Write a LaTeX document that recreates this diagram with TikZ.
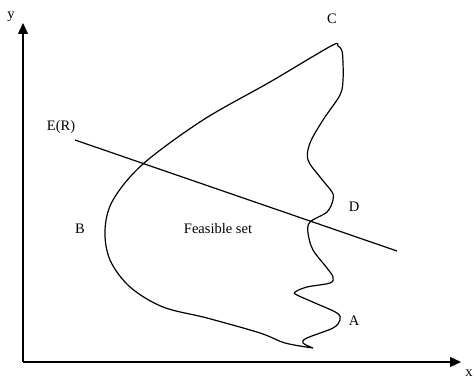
\documentclass[tikz,border=0pt]{standalone}
\usepackage{fontspec}
\setmainfont{Liberation Serif}
\usetikzlibrary{arrows.meta}
\begin{document}
\begin{tikzpicture}[x=1pt,y=-1pt,
  lbl/.style={inner sep=0pt,font=\fontsize{14.5}{17}\selectfont},
  axis/.style={line width=1.2pt,-{Triangle[length=11pt,width=10pt]}},
  ln/.style={line width=1.2pt}]
\useasboundingbox (0,0) rectangle (474,379);
\coordinate (O) at (23,362);
\coordinate (ytip) at (23,23);
\coordinate (xtip) at (461,362);
\draw[axis] (O) -- (ytip);
\draw[axis] (O) -- (xtip);
\node[lbl] (ylab) at (11,17) {y};
\node[lbl] (xlab) at (469,373) {x};
\coordinate (e1) at (75,140);
\coordinate (e2) at (397,251);
\draw[ln] (e1) -- (e2);
\draw[ln] plot[smooth,tension=0.55] coordinates {
(313,348) (285,343) (260,333) (207,318) (163,307) (130,287) (110,260) (105,230) (113,200) (143,164) (203,120) (270,82) (331,46)
(338,46) (342,51) (343,63) (343,80) (340,95) (323,120) (310,143) (308,160) (320,177) (332,192) (333,200) (327,212) (310,222) (308,233) (313,250) (327,268) (333,277) (330,283) (307,287) (295,292) (297,295) (315,303) (337,313) (340,320) (333,328) (307,338) (303,343) (313,348)};
\node[lbl] (C) at (332,19) {C};
\node[lbl] (ER) at (61,127) {E(R)};
\node[lbl] (B) at (80,229) {B};
\node[lbl] (fs) at (218,229) {Feasible set};
\node[lbl] (D) at (354,207) {D};
\node[lbl] (A) at (354,321) {A};
\end{tikzpicture}
\end{document}
